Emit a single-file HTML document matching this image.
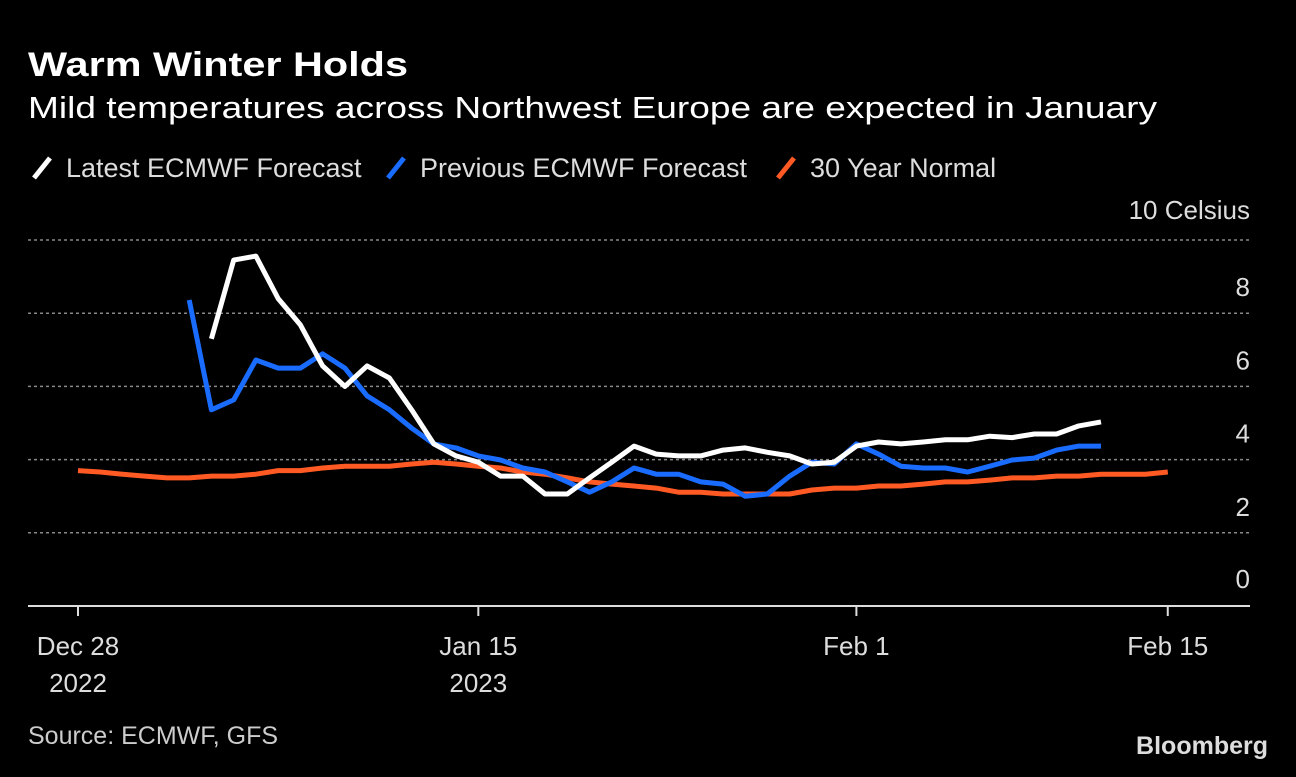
<!DOCTYPE html>
<html><head><meta charset="utf-8"><style>
body{margin:0;background:#000;width:1296px;height:772px;overflow:hidden;font-family:"Liberation Sans",sans-serif;color:#fff}
</style></head><body>
<svg width="1296" height="772" id="svg">
<text x="28" y="76" font-size="34" font-weight="bold" fill="#fff" textLength="380" lengthAdjust="spacingAndGlyphs">Warm Winter Holds</text>
<text x="28" y="118" font-size="31" fill="#fff" textLength="1129" lengthAdjust="spacingAndGlyphs">Mild temperatures across Northwest Europe are expected in January</text>
<g font-size="27" fill="#ddd">
<line x1="34" y1="178" x2="50" y2="158" stroke="#fff" stroke-width="5"/>
<text x="66" y="177">Latest ECMWF Forecast</text>
<line x1="388" y1="178" x2="404" y2="158" stroke="#1a6cff" stroke-width="5"/>
<text x="420" y="177">Previous ECMWF Forecast</text>
<line x1="778" y1="178" x2="794" y2="158" stroke="#ff5a24" stroke-width="5"/>
<text x="810" y="177">30 Year Normal</text>
</g>
<g id="grid"></g><g id="xaxis"></g><g id="lines"></g>
<text x="28" y="744" font-size="25" fill="#ccc">Source: ECMWF, GFS</text>
<text x="1268" y="754" font-size="25" font-weight="bold" fill="#ddd" text-anchor="end">Bloomberg</text>
</svg>
<script>
const yTicks=[0,2,4,6,8,10];
const xTickDays=[0,18,35,49];
const xTickLabels=[["Dec 28","2022"],["Jan 15","2023"],["Feb 1",""],["Feb 15",""]];
const latestStart=6;
const latest=[7.3,9.45,9.56,8.4,7.68,6.56,6.0,6.56,6.23,5.36,4.43,4.1,3.93,3.55,3.55,3.06,3.06,3.5,3.93,4.37,4.15,4.1,4.1,4.26,4.32,4.2,4.1,3.88,3.93,4.37,4.48,4.43,4.48,4.54,4.54,4.64,4.6,4.7,4.7,4.92,5.03];
const previousStart=5;
const previous=[8.36,5.36,5.63,6.72,6.5,6.5,6.89,6.5,5.74,5.36,4.86,4.43,4.32,4.1,3.99,3.77,3.66,3.39,3.11,3.39,3.77,3.6,3.6,3.39,3.33,3.0,3.06,3.55,3.93,3.88,4.43,4.15,3.82,3.77,3.77,3.66,3.82,3.99,4.04,4.26,4.37,4.37];
const normalStart=0;
const normal=[3.7,3.66,3.6,3.55,3.5,3.5,3.55,3.55,3.6,3.7,3.7,3.77,3.82,3.82,3.82,3.88,3.93,3.88,3.82,3.77,3.66,3.6,3.5,3.39,3.33,3.28,3.22,3.11,3.11,3.06,3.06,3.06,3.06,3.17,3.22,3.22,3.28,3.28,3.33,3.39,3.39,3.44,3.5,3.5,3.55,3.55,3.6,3.6,3.6,3.66];
const NS="http://www.w3.org/2000/svg";
const X=d=>78+d*22.24, Y=v=>606-v*36.6;
function mk(t,a,p){const e=document.createElementNS(NS,t);for(const k in a)e.setAttribute(k,a[k]);p.appendChild(e);return e;}
const grid=document.getElementById('grid');
yTicks.forEach(v=>{
 if(v>0){const l=mk('line',{x1:28,x2:1250,y1:Y(v),y2:Y(v),stroke:'#888','stroke-width':1.5,'stroke-dasharray':'3 3'},grid);
 
 }
 const t=mk('text',{x:1250,'font-size':26,fill:'#ddd','text-anchor':'end'},grid);
 t.setAttribute('y', v==10? Y(v)-21 : Y(v)-17+ (v==0?-1:0));
 t.textContent=v==10?'10 Celsius':String(v);
 
 
});
const xa=document.getElementById('xaxis');
const ax=mk('line',{x1:28,x2:1250,y1:606,y2:606,stroke:'#ddd','stroke-width':2},xa);


xTickDays.forEach((d,i)=>{
 const tk=mk('line',{x1:X(d),x2:X(d),y1:606,y2:616,stroke:'#ddd','stroke-width':2},xa);
 
 
 xTickLabels[i].forEach((s,j)=>{if(!s)return;
  const t=mk('text',{x:X(d),y:655+j*37,'font-size':26,fill:'#ddd','text-anchor':'middle'},xa);t.textContent=s;
  
  });
});
const lines=document.getElementById('lines');
function series(arr,start,color,name){
 const pts=arr.map((v,i)=>X(start+i).toFixed(1)+','+Y(v).toFixed(1)).join(' ');
 const p=mk('polyline',{points:pts,fill:'none',stroke:color,'stroke-width':5,'stroke-linejoin':'round'},lines);
 
 
}
series(normal,normalStart,'#ff5a24','normal-line');
series(previous,previousStart,'#1a6cff','previous-forecast-line');
series(latest,latestStart,'#ffffff','latest-forecast-line');
</script>
</body></html>
